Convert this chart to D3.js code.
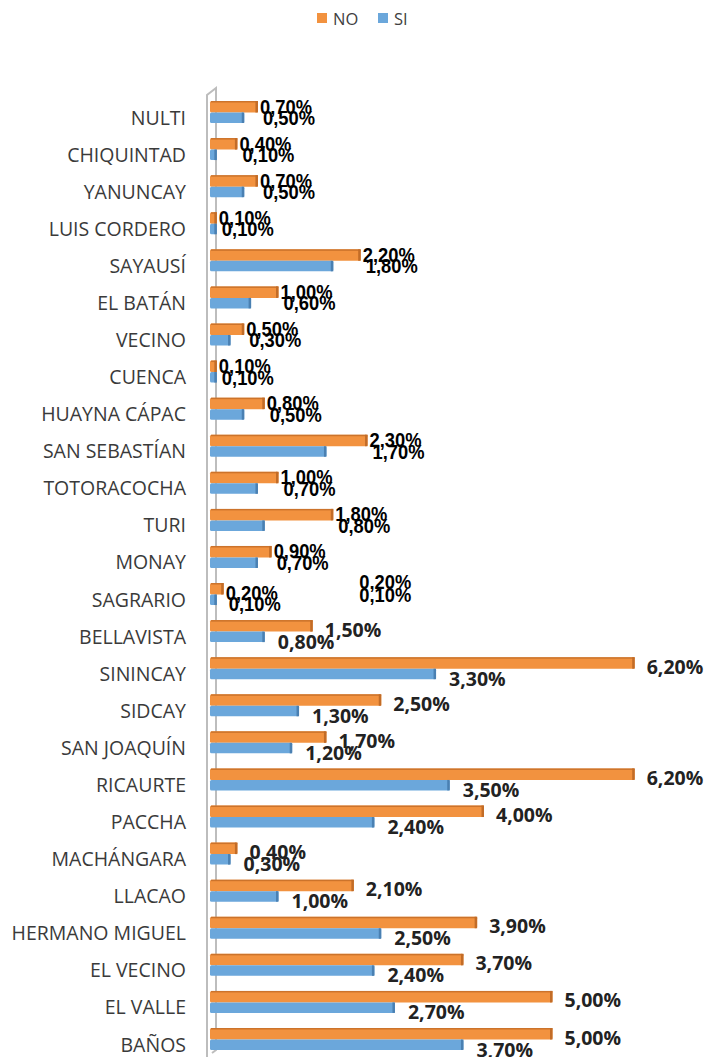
<!DOCTYPE html>
<html>
<head>
<meta charset="utf-8">
<script src="https://cdn.jsdelivr.net/npm/d3@7"></script>
<style>
  body { margin: 0; background: #fff; }
  svg { display: block; }
</style>
</head>
<body>
<script>
// parroquias, top to bottom as in the chart
var categories = ["NULTI", "CHIQUINTAD", "YANUNCAY", "LUIS CORDERO", "SAYAUSÍ", "EL BATÁN",
  "VECINO", "CUENCA", "HUAYNA CÁPAC", "SAN SEBASTÍAN", "TOTORACOCHA", "TURI", "MONAY",
  "SAGRARIO", "BELLAVISTA", "SININCAY", "SIDCAY", "SAN JOAQUÍN", "RICAURTE", "PACCHA",
  "MACHÁNGARA", "LLACAO", "HERMANO MIGUEL", "EL VECINO", "EL VALLE", "BAÑOS"];
var noValues = [0.7, 0.4, 0.7, 0.1, 2.2, 1.0, 0.5, 0.1, 0.8, 2.3, 1.0, 1.8, 0.9,
  0.2, 1.5, 6.2, 2.5, 1.7, 6.2, 4.0, 0.4, 2.1, 3.9, 3.7, 5.0, 5.0];
var siValues = [0.5, 0.1, 0.5, 0.1, 1.8, 0.6, 0.3, 0.1, 0.5, 1.7, 0.7, 0.8, 0.7,
  0.1, 0.8, 3.3, 1.3, 1.2, 3.5, 2.4, 0.3, 1.0, 2.5, 2.4, 2.7, 3.7];
var seriesNames = ["NO", "SI"];
// the first rows carry the narrow, squeezed labels, the rest the wide ones
var narrowLabelRows = 14;
// stray duplicate labels left in the original next to SAGRARIO
var strayCategory = "SAGRARIO";
var strayAt = 2.18;

var width = 705;
var height = 1057;
var orange = "#f2923f";
var orangeDark = "#c26c27";
var blue = "#6ba7db";
var blueDark = "#4a80b2";

var svg = d3.select("body").append("svg")
  .attr("width", width)
  .attr("height", height);

var x = d3.scaleLinear().domain([0, 1]).range([210, 278.5]);
var y = d3.scaleBand().domain(categories).range([98, 98 + 26 * 37.08]);

var fmt = function(v) { return d3.format(".2f")(v).replace(".", ",") + "%"; };

// legend
var legend = svg.append("g").attr("transform", "translate(317,13)");
[orange, blue].forEach(function(c, i) {
  legend.append("rect").attr("x", i * 61).attr("y", 0).attr("width", 10).attr("height", 10).attr("fill", c);
  legend.append("text").attr("x", i * 61 + 16).attr("y", 5)
    .attr("dominant-baseline", "central")
    .attr("font-family", "Open Sans").attr("font-size", 16.5).attr("fill", "#404040")
    .text(seriesNames[i]);
});

// 3d wall of the axis
svg.append("path")
  .attr("d", "M207,1057 L207,95 L216,88 L216,1050 L212,1053")
  .attr("fill", "none").attr("stroke", "#bdbdbd").attr("stroke-width", 2);

// category labels
svg.append("g").selectAll("text")
  .data(categories)
  .join("text")
    .attr("x", 186)
    .attr("y", function(d) { return y(d) + 19; })
    .attr("text-anchor", "end")
    .attr("dominant-baseline", "central")
    .attr("font-family", "Open Sans").attr("font-size", 19.5).attr("fill", "#3a3a3a")
    .text(function(d) { return d; });

var rows = categories.map(function(c, i) { return { cat: c, no: noValues[i], si: siValues[i], i: i }; });

var bars = svg.append("g");
function drawBar(sel, key, dy, h, fill, dark, topEdge) {
  sel.append("rect")
    .attr("x", x(0)).attr("y", function(d) { return y(d.cat) + dy; })
    .attr("width", function(d) { return x(d[key]) - x(0); })
    .attr("height", h).attr("rx", 1.5).attr("fill", fill);
  if (topEdge) {
    sel.append("rect")
      .attr("x", x(0) + 1).attr("y", function(d) { return y(d.cat) + dy; })
      .attr("width", function(d) { return x(d[key]) - x(0) - 1; })
      .attr("height", 1.5).attr("fill", dark).attr("opacity", 0.8);
  }
  sel.append("rect")
    .attr("x", function(d) { return x(d[key]) - 2.5; })
    .attr("y", function(d) { return y(d.cat) + dy; })
    .attr("width", 2.5).attr("height", h).attr("fill", dark);
}
var rowG = bars.selectAll("g").data(rows).join("g");
drawBar(rowG, "no", 3, 11.5, orange, orangeDark, true);
drawBar(rowG, "si", 14.5, 10.5, blue, blueDark, false);

// value labels
var narrow = rows.filter(function(d) { return d.i < narrowLabelRows; });
var wide = rows.filter(function(d) { return d.i >= narrowLabelRows; });

var nl = svg.append("g")
  .attr("font-family", "'Liberation Sans', Arial, sans-serif").attr("font-weight", "bold")
  .attr("font-size", 20).attr("fill", "#000");
function narrowText(tx, ty, str) {
  nl.append("text").attr("x", tx).attr("y", ty)
    .attr("dominant-baseline", "central")
    .attr("textLength", 52).attr("lengthAdjust", "spacingAndGlyphs")
    .text(str);
}
narrow.forEach(function(d) {
  var y0 = y(d.cat);
  var down = d.cat === strayCategory ? 4 : 0;
  narrowText(x(d.no) + 2, y0 + 8.5 + down, fmt(d.no));
  narrowText(x(d.no) + 5, y0 + 20 + down, fmt(d.si));
  if (d.cat === strayCategory) {
    narrowText(x(strayAt), y0 + 2, fmt(d.no));
    narrowText(x(strayAt), y0 + 15, fmt(d.si));
  }
});

var wl = svg.append("g")
  .attr("font-family", "Open Sans").attr("font-weight", "bold")
  .attr("font-size", 19.5).attr("fill", "#222");
wide.forEach(function(d) {
  var y0 = y(d.cat);
  wl.append("text").attr("x", x(d.no) + 12).attr("y", y0 + 12)
    .attr("dominant-baseline", "central").text(fmt(d.no));
  wl.append("text").attr("x", x(d.si) + 13).attr("y", y0 + 24)
    .attr("dominant-baseline", "central").text(fmt(d.si));
});
</script>
</body>
</html>
